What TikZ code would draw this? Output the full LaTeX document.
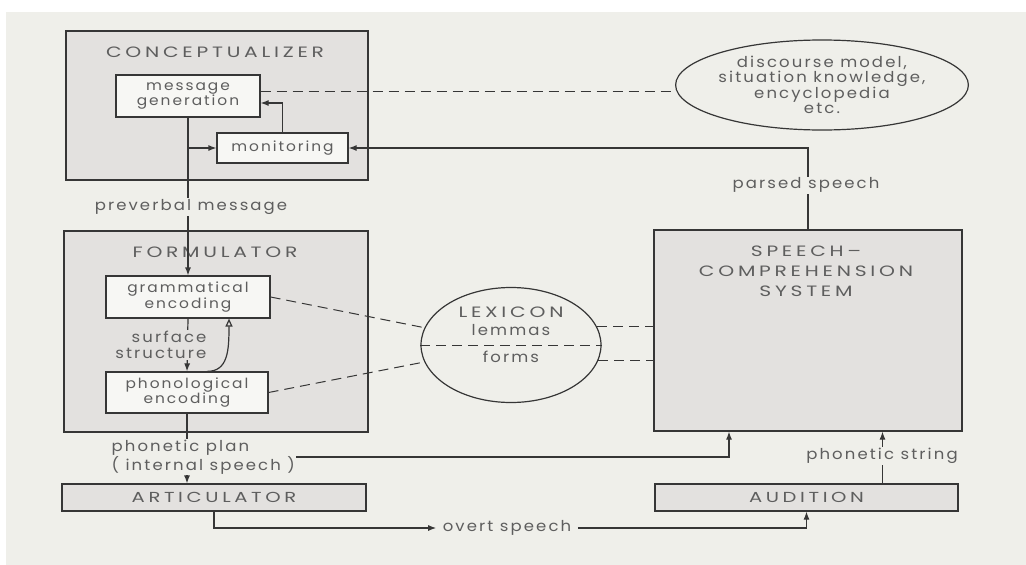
\documentclass[tikz,border=0pt]{standalone}
\usepackage{fontspec}
\setmainfont{Poppins}[LetterSpace=14,FakeStretch=1.1]
\newfontfamily\capfont{Poppins}[LetterSpace=25,FakeStretch=1.35]
\usetikzlibrary{arrows.meta,shapes.geometric,positioning}
\definecolor{paper}{HTML}{EFEFEA}
\definecolor{shade}{HTML}{E3E1DF}
\definecolor{ink}{HTML}{363636}
\begin{document}
\begin{tikzpicture}[x=1pt,y=-1pt,color=ink,text=ink!80,line width=1.2pt,
	font=\fontsize{15}{15.5}\selectfont,
	big/.style={draw,fill=shade,inner sep=0pt},
	sub/.style={draw,fill=white!50!paper,align=center,inner sep=0pt,font=\fontsize{14}{15.5}\selectfont},
	ttl/.style={font=\capfont\fontsize{15}{20}\selectfont,align=center},
	dsh/.style={line width=1pt,dash pattern=on 10pt off 6pt},
	>={Latex[length=8pt,width=6pt]}]
	\newcommand{\bx}[6]{\node[#1,minimum width=#4pt,minimum height=#5pt] (#2) at (#3) {#6};}
	\fill[white] (0,0) rectangle (1026,565);
	\fill[paper] (6,12) rectangle (1026,565);
	\useasboundingbox (0,0) rectangle (1026,565);
	\bx{big}{con}{217,105.5}{302}{149}{}
	\bx{big}{form}{216,331.5}{304}{201}{}
	\bx{big}{sc}{808,330.5}{308}{201}{}
	\bx{big,ttl,font=\capfont\fontsize{14.5}{16}\selectfont}{art}{214,497.5}{304}{27}{ARTICULATOR}
	\bx{big,ttl,font=\capfont\fontsize{14.5}{16}\selectfont}{aud}{806.5,497.5}{303}{27}{AUDITION}
	\bx{sub}{msg}{188,96}{144}{42}{message\\generation}
	\bx{sub}{mon}{282.5,148}{131}{30}{monitoring}
	\bx{sub}{gram}{188,297}{164}{42}{grammatical\\encoding}
	\bx{sub}{phon}{187,392.5}{162}{41}{phonological\\encoding}
	\node[ttl] (conT) at (215,52) {CONCEPTUALIZER};
	\node[ttl] (formT) at (215,252) {FORMULATOR};
	\node[ttl] (scT) at (806,271) {SPEECH\textendash\\COMPREHENSION\\SYSTEM};
	\node[draw,ellipse,fill=paper,minimum width=250pt,minimum height=90pt,inner sep=0pt,align=center] (disc) at (822,85)
		{discourse model,\\situation knowledge,\\encyclopedia\\etc.};
	\node[draw,ellipse,fill=paper,minimum width=180pt,minimum height=115pt,inner sep=0pt] (lex) at (511,345) {};
	\node[ttl] (lexT) at (511,312) {LEXICON};
	\node (lem) at (511,330) {lemmas};
	\node (frm) at (511,357) {forms};
	\draw[dsh] (lex.west) -- (lex.east);
	\coordinate (dm) at ([yshift=5pt]msg.east);
	\draw[dsh] (dm) -- (dm -| disc.west);
	\draw[dsh] (gram.east) -- (lex);
	\draw[dsh] (phon.east) -- (lex);
	\draw[dsh] (lex.12) -- (lex.12 -| sc.west);
	\draw[dsh] (lex.-10) -- (lex.-10 -| sc.west);
	\draw[->] (mon.north) |- ([yshift=-7pt]msg.east);
	\draw[->] (msg.south) -- (gram.north);
	\draw[->] (msg.south |- mon.west) -- (mon.west);
	\draw[->] (sc.north) |- (mon.east);
	\node[fill=paper,inner sep=1pt] (pars) at (806,185) {parsed speech};
	\node[fill=paper,inner sep=1pt] (prev) at (191,207) {preverbal message};
	\draw[->] (gram.south) -- (phon.north);
	\node[fill=shade,inner sep=1pt,align=right,anchor=east] (surf) at (208,345) {surface\\structure};
	\draw[-{Triangle[open,length=8pt,width=7pt]}] ([xshift=20pt]phon.north) .. controls +(21,0) and +(0,32) .. ([xshift=41pt]gram.south);
	\draw[->] (phon.south) -- (phon.south |- art.north);
	\node[fill=paper,inner sep=1pt,align=left,anchor=west] (plan) at (110,457) {phonetic plan\\( internal speech )};
	\draw[->] (plan.east) -| ([xshift=-79pt]sc.south);
	\draw[->] ([xshift=76pt]aud.north) -- ([xshift=76pt]aud.north |- sc.south);
	\node[fill=paper,inner sep=1pt] (str) at (882,456) {phonetic string};
	\node[inner sep=6pt] (ovt) at (507,528) {overt speech};
	\draw[->] (art.south) |- (ovt.west);
	\draw[->] (ovt.east) -| (aud.south);
\end{tikzpicture}
\end{document}
